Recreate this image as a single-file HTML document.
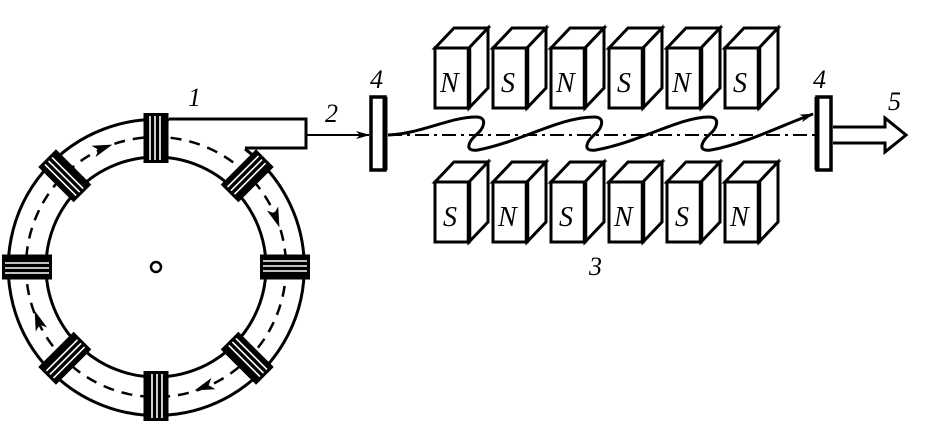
<!DOCTYPE html>
<html><head><meta charset="utf-8"><style>
html,body{margin:0;padding:0;background:#fff;}
svg{display:block;}
svg text{font-family:"Liberation Serif","Times New Roman",serif;font-style:italic;fill:#000;}
</style></head><body>
<svg width="927" height="432" viewBox="0 0 927 432" xmlns="http://www.w3.org/2000/svg" font-family="Liberation Serif, serif">
<defs>
<g id="blk">
  <rect x="-12.5" y="-25" width="25" height="50" fill="#000"/>
  <line x1="-6" y1="-22" x2="-6" y2="22" stroke="#fff" stroke-width="1.6"/>
  <line x1="-1" y1="-22" x2="-1" y2="22" stroke="#fff" stroke-width="1.6"/>
  <line x1="4" y1="-22" x2="4" y2="22" stroke="#fff" stroke-width="1.6"/>
</g>
<g id="mag" fill="#fff" stroke="#000" stroke-width="3" stroke-linejoin="miter">
  <polygon points="0,0 19,-20 53,-20 34,0"/>
  <polygon points="34,0 53,-20 53,40 34,60"/>
  <rect x="0" y="0" width="34" height="60"/>
  <line x1="34" y1="0" x2="34" y2="60" stroke-width="4.5"/>
</g>
<marker id="ah" markerWidth="14" markerHeight="10" refX="13" refY="5" orient="auto" markerUnits="userSpaceOnUse">
  <path d="M0,1 L14,5 L0,9 L4,5 Z" fill="#000"/>
</marker>
</defs>

<g fill="none" stroke="#000">
  <path d="M245,149 A148,148 0 1 1 169,120" stroke-width="3"/>
  <circle cx="156" cy="267" r="110" stroke-width="3"/>
  <circle cx="156" cy="267" r="130" stroke-width="2.5" stroke-dasharray="11 8"/>
  <circle cx="156" cy="267" r="5" stroke-width="2.5"/>
</g>
<g fill="#000">
  <path d="M-10,-6 L10,0 L-10,6 L-5,0 Z" transform="translate(103,148) rotate(-20)"/>
  <path d="M-10,-6 L10,0 L-10,6 L-5,0 Z" transform="translate(276,218) rotate(70)"/>
  <path d="M-10,-6 L10,0 L-10,6 L-5,0 Z" transform="translate(204,387) rotate(160)"/>
  <path d="M-10,-6 L10,0 L-10,6 L-5,0 Z" transform="translate(38,320) rotate(-110)"/>
</g>
<g transform="translate(156,267)">
  <g transform="rotate(0) translate(0,-129)"><use href="#blk"/></g>
  <g transform="rotate(45) translate(0,-129)"><use href="#blk"/></g>
  <g transform="rotate(90) translate(0,-129)"><use href="#blk"/></g>
  <g transform="rotate(135) translate(0,-129)"><use href="#blk"/></g>
  <g transform="rotate(180) translate(0,-129)"><use href="#blk"/></g>
  <g transform="rotate(225) translate(0,-129)"><use href="#blk"/></g>
  <g transform="rotate(270) translate(0,-129)"><use href="#blk"/></g>
  <g transform="rotate(315) translate(0,-129)"><use href="#blk"/></g>
</g>
<g fill="none" stroke="#000" stroke-width="3">
  <path d="M169,119 L306,119 L306,148 L245,148"/>
</g>
<line x1="306" y1="135" x2="369" y2="135" stroke="#000" stroke-width="2" marker-end="url(#ah)"/>
<text x="188" y="106" font-size="26">1</text>
<text x="325" y="122" font-size="26">2</text>

<rect x="371" y="97" width="14" height="73" fill="#fff" stroke="#000" stroke-width="3.5"/>
<line x1="385" y1="97" x2="385" y2="170" stroke="#000" stroke-width="5"/>
<text x="370" y="88" font-size="26">4</text>
<rect x="817" y="97" width="14" height="73" fill="#fff" stroke="#000" stroke-width="3.5"/>
<line x1="817" y1="97" x2="817" y2="170" stroke="#000" stroke-width="5"/>
<text x="813" y="88" font-size="26">4</text>
<text x="888" y="110" font-size="26">5</text>
<path d="M833,127 L885,127 L885,118 L906,135 L885,152 L885,143 L833,143" fill="#fff" stroke="#000" stroke-width="3"/>

<line x1="388" y1="135" x2="817" y2="135" stroke="#000" stroke-width="2" stroke-dasharray="14 5 3 5"/>
<path d="M388,135 C420,134 450,117 476,117 C488,117 484,128 477,134 C468,142 464,152 478,150
 C520,142 560,117 594,117 C606,117 602,128 595,134 C586,142 582,152 596,150
 C640,142 680,117 709,117 C721,117 717,128 710,134 C701,142 697,152 711,150
 C745,144 780,126 813,114" fill="none" stroke="#000" stroke-width="3" marker-end="url(#ah)"/>

<g>
  <use href="#mag" x="435" y="48"/><text x="440" y="92" font-size="28">N</text>
  <use href="#mag" x="493" y="48"/><text x="501" y="92" font-size="28">S</text>
  <use href="#mag" x="551" y="48"/><text x="556" y="92" font-size="28">N</text>
  <use href="#mag" x="609" y="48"/><text x="617" y="92" font-size="28">S</text>
  <use href="#mag" x="667" y="48"/><text x="672" y="92" font-size="28">N</text>
  <use href="#mag" x="725" y="48"/><text x="733" y="92" font-size="28">S</text>
</g>
<g>
  <use href="#mag" x="435" y="182"/><text x="443" y="226" font-size="28">S</text>
  <use href="#mag" x="493" y="182"/><text x="498" y="226" font-size="28">N</text>
  <use href="#mag" x="551" y="182"/><text x="559" y="226" font-size="28">S</text>
  <use href="#mag" x="609" y="182"/><text x="614" y="226" font-size="28">N</text>
  <use href="#mag" x="667" y="182"/><text x="675" y="226" font-size="28">S</text>
  <use href="#mag" x="725" y="182"/><text x="730" y="226" font-size="28">N</text>
</g>
<text x="589" y="275" font-size="26">3</text>
</svg>
</body></html>
